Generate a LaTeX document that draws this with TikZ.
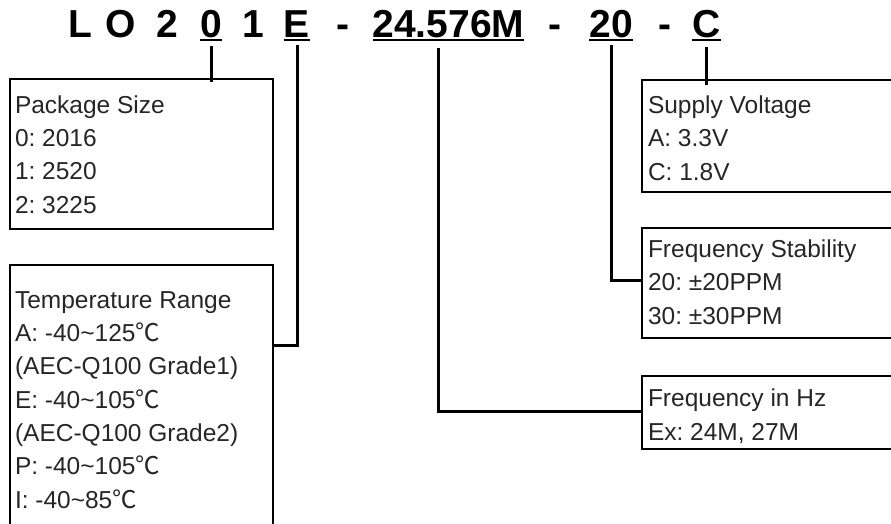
\documentclass[tikz,border=0pt]{standalone}
\usepackage{fontspec}
\setmainfont{Liberation Sans}
\newfontfamily\cjk{Noto Sans CJK SC}
\usepackage{tikz}
\newcommand{\degC}{{\cjk ℃}}
\frenchspacing

\begin{document}
\begin{tikzpicture}[
  x=1pt, y=-1pt,
  every node/.style={inner sep=0pt, outer sep=0pt},
  code/.style={font=\fontsize{39}{39}\selectfont\bfseries, anchor=base},
  box/.style={rectangle, draw=black, line width=1.8pt, anchor=north west, minimum width=263pt},
  openbox/.style={box, minimum width=300pt},
  info/.style={anchor=base west, align=left, font=\fontsize{24.5}{33.3}\selectfont, text=black!85},
  link/.style={draw=black, line width=3pt},
  uline/.style={draw=black, line width=2pt}
]
\clip (0,0) rectangle (891,523);

% Part number
\node[code] (cL) at (80.5,37) {L};
\node[code] (cO) at (121,37) {O};
\node[code] (c2) at (167,37) {2};
\node[code] (c0) at (211,37) {0};
\node[code] (c1) at (253.5,37) {1};
\node[code] (cE) at (297,37) {E};
\node[code] (d1) at (343,37) {-};
\node[code] (cF) at (448.5,37) {24.576M};
\node[code] (d2) at (555,37) {-};
\node[code] (c20) at (611,37) {20};
\node[code] (d3) at (665,37) {-};
\node[code] (cC) at (706.5,37) {C};

% Underlines
\foreach \n in {c0, cE, cF, c20, cC}
  \draw[uline] ([yshift=-3pt]\n.base west) -- ([yshift=-3pt]\n.base east);

% Boxes
\node[box, minimum height=150pt] (pkgbox) at (10,79) {};
\node[box, minimum height=300pt] (tempbox) at (10,265) {};
\node[openbox, minimum height=112pt] (supbox) at (642,80) {};
\node[openbox, minimum height=110pt] (stabbox) at (642,228) {};
\node[openbox, minimum height=73pt] (hzbox) at (642,376) {};

% Box texts (base = last line)
\node[info] (pkgtxt) at (15,213) {Package Size\\0: 2016\\1: 2520\\2: 3225};
\node[info] (temptxt) at (15,508) {Temperature Range\\A: -40\textasciitilde125\degC\\(AEC-Q100 Grade1)\\E: -40\textasciitilde105\degC\\(AEC-Q100 Grade2)\\P: -40\textasciitilde105\degC\\I: -40\textasciitilde85\degC};
\node[info] (suptxt) at (648,180) {Supply Voltage\\A: 3.3V\\C: 1.8V};
\node[info] (stabtxt) at (648,324) {Frequency Stability\\20: ±20PPM\\30: ±30PPM};
\node[info] (hztxt) at (648,440) {Frequency in Hz\\Ex: 24M, 27M};

% Connectors
\draw[link] ([yshift=-9pt]c0.base) -- ([yshift=-3pt]c0.base |- pkgbox.north);
\draw[link] ([yshift=-8pt]cE.base) |- ([yshift=-80pt]tempbox.north east);
\draw[link] ([xshift=-10.5pt, yshift=-11pt]cF.base) |- ([yshift=-35pt]hzbox.north west);
\draw[link] ([yshift=-8pt]c20.base) |- ([yshift=-52pt]stabbox.north west);
\draw[link] ([yshift=-10pt]cC.base) -- ([yshift=-5pt]cC.base |- supbox.north);

\end{tikzpicture}
\end{document}
